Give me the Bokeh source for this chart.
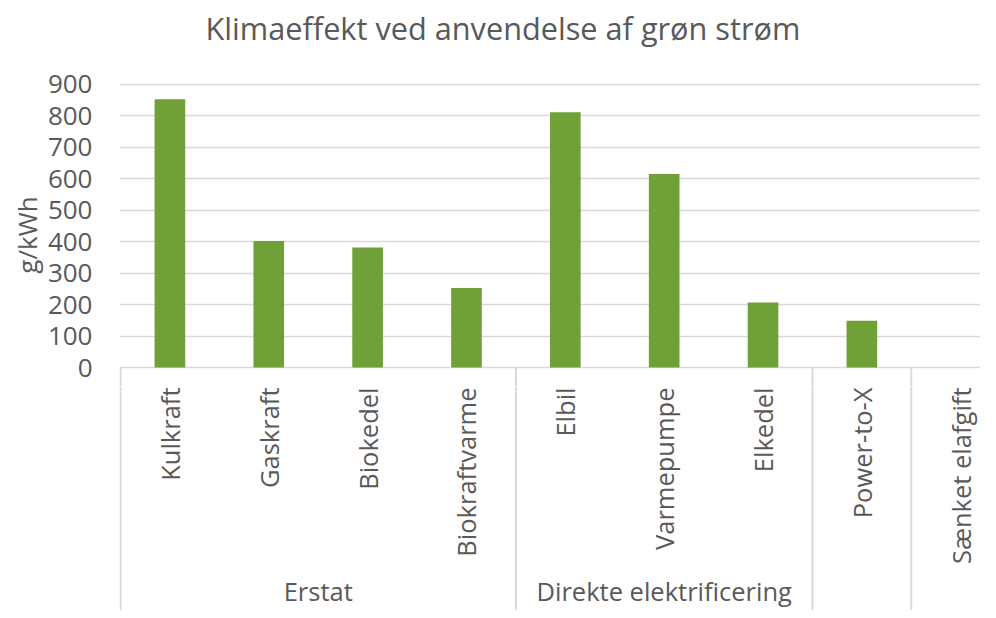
import numpy as np
from bokeh.plotting import figure
from bokeh.layouts import column
from bokeh.models import Range1d, FixedTicker, ColumnDataSource
from bokeh.core.properties import value
from bokeh.embed import file_html
from bokeh.resources import INLINE

# ---- data ----
title_text = "Klimaeffekt ved anvendelse af grøn strøm"
categories = ["Kulkraft", "Gaskraft", "Biokedel", "Biokraftvarme",
              "Elbil", "Varmepumpe", "Elkedel", "Power-to-X", "Sænket elafgift"]
values = [852, 402, 381, 253, 811, 615, 207, 149, 0]
groups = ["Erstat", "Direkte elektrificering", "", ""]
group_sizes = [4, 3, 1, 1]
y_ticks = [0, 100, 200, 300, 400, 500, 600, 700, 800, 900]

FONT = "Open Sans"
TXT = "#595959"
GRID = "#D9D9D9"
BAR = "#70A038"

centers = np.arange(len(categories)) + 0.5
bounds = np.concatenate([[0], np.cumsum(group_sizes)])
gcenters = (bounds[:-1] + bounds[1:]) / 2

x_range = Range1d(-0.01, 8.70)
y_range = Range1d(-60, 902)

# header with the title
p0 = figure(width=980, height=62, output_backend="svg", toolbar_location=None,
            x_axis_location=None, y_axis_location=None, min_border=0,
            title=title_text)
p0.outline_line_color = None
p0.grid.grid_line_color = None
p0.title.text_font = FONT
p0.title.text_font_size = "30.7px"
p0.title.text_font_style = "normal"
p0.title.text_color = TXT
p0.title.align = "left"
p0.title.offset = 86
p0.title.standoff = 8

p1 = figure(width=980, height=324, x_range=x_range, y_range=y_range,
            output_backend="svg", toolbar_location=None, x_axis_location=None,
            min_border_left=119, min_border_right=0, min_border_bottom=0,
            min_border_top=21)
p1.outline_line_color = None
p1.xgrid.grid_line_color = None
p1.ygrid.grid_line_color = GRID
p1.ygrid.grid_line_width = 1.5
p1.yaxis.ticker = FixedTicker(ticks=y_ticks)
p1.yaxis.axis_line_color = None
p1.yaxis.major_tick_line_color = None
p1.yaxis.minor_tick_line_color = None
p1.yaxis.major_tick_out = 0
p1.yaxis.major_tick_in = 0
p1.yaxis.minor_tick_out = 0
p1.yaxis.major_label_text_font = FONT
p1.yaxis.major_label_text_font_size = "26px"
p1.yaxis.major_label_text_color = TXT
p1.yaxis.major_label_standoff = 27
p1.yaxis.axis_label = "g/kWh"
p1.yaxis.axis_label_text_font = FONT
p1.yaxis.axis_label_text_font_size = "26px"
p1.yaxis.axis_label_text_font_style = "normal"
p1.yaxis.axis_label_text_color = TXT
p1.yaxis.axis_label_standoff = 0

p1.vbar(x=centers, top=values, width=0.31, color=BAR, line_color=None)
p1.segment(x0=bounds, y0=[0] * len(bounds), x1=bounds,
           y1=[y_range.start] * len(bounds), line_color=GRID, line_width=2)

p2 = figure(width=980, height=224, x_range=x_range, y_range=Range1d(0, 1),
            output_backend="svg", toolbar_location=None,
            x_axis_location=None, y_axis_location=None,
            min_border_left=119, min_border_right=0, min_border_bottom=0,
            min_border_top=0)
p2.outline_line_color = None
p2.grid.grid_line_color = None

p2.segment(x0=bounds, y0=[0] * len(bounds), x1=bounds, y1=[1] * len(bounds),
           line_color=GRID, line_width=2)

src_c = ColumnDataSource(dict(x=centers, y=[1] * len(centers), t=categories))
p2.text(x="x", y="y", text="t", source=src_c, angle=np.pi / 2,
        text_align="right", text_baseline="middle", y_offset=1,
        text_font=value(FONT), text_font_size="25.5px", text_color=TXT)

src_g = ColumnDataSource(dict(x=gcenters, y=[0] * len(gcenters), t=groups))
p2.text(x="x", y="y", text="t", source=src_g, text_align="center",
        text_baseline="middle", y_offset=-20,
        text_font=value(FONT), text_font_size="25.5px", text_color=TXT)

layout = column(p0, p1, p2, spacing=0)
open("out.html", "w").write(file_html(layout, INLINE))
